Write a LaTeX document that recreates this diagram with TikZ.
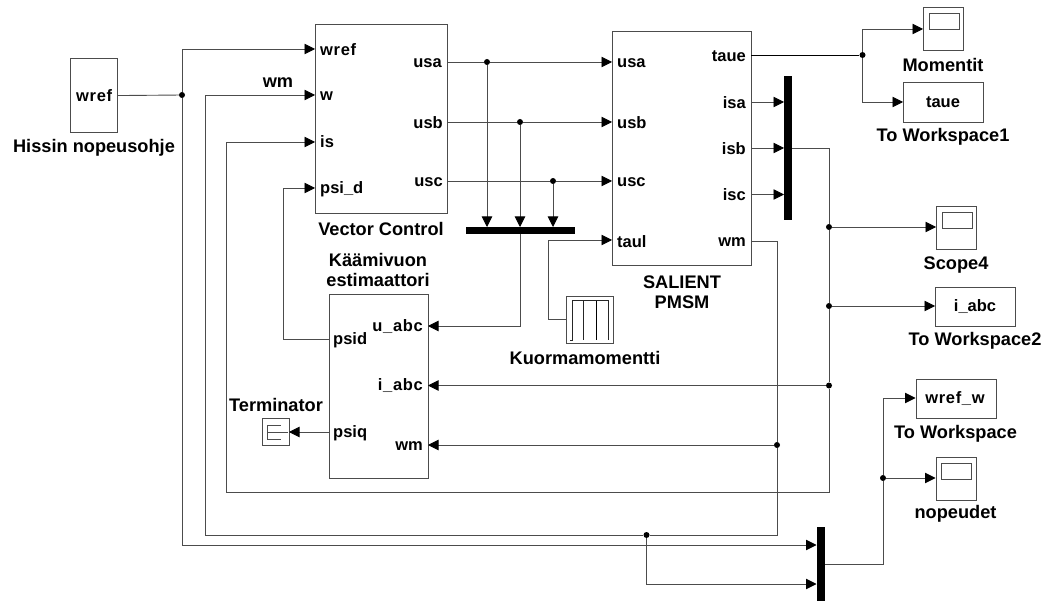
\documentclass[tikz,border=0pt]{standalone}
\usepackage{fontspec}
\setmainfont{Liberation Sans}
\newfontfamily\widefont[LetterSpace=4,BoldFont={Liberation Sans Bold}]{Liberation Sans}
\usetikzlibrary{arrows.meta}
\definecolor{ln}{gray}{0.3}
\tikzset{
  x=1pt,y=-1pt,
  blk/.style={draw=ln,line width=1.1pt,fill=white,inner sep=0pt,anchor=north west},
  wire/.style={draw=ln,line width=0.9pt},
  arr/.style={wire,-{Triangle[length=10.5pt,width=10.5pt,fill=black,color=black]}},
  dot/.style={circle,fill=black,inner sep=0pt,minimum size=6pt},
  bar/.style={fill=black,inner sep=0pt,anchor=north west},
  lab/.style={font=\bfseries\fontsize{18.2}{20.5}\selectfont,inner sep=0pt,text=black,align=center},
  port/.style={font=\bfseries\fontsize{16.5}{18}\selectfont,inner sep=0pt,text=black},
  wideport/.style={font=\widefont\bfseries\fontsize{16.5}{18}\selectfont,inner sep=0pt,text=black},
  screen/.style={draw=ln,line width=1pt,inner sep=0pt,anchor=north west},
}
\begin{document}
\begin{tikzpicture}
\useasboundingbox (0,0) rectangle (1049,601);
% blocks
\node[blk,minimum width=47pt,minimum height=74pt] (wrefb) at (70,58) {};
\node[blk,minimum width=132pt,minimum height=189pt] (vc) at (315,24) {};
\node[blk,minimum width=139pt,minimum height=234pt] (pmsm) at (612,31) {};
\node[blk,minimum width=99pt,minimum height=184pt] (est) at (329,294) {};
\node[blk,minimum width=27pt,minimum height=27pt] (term) at (262,418) {};
\node[blk,minimum width=46.5pt,minimum height=47pt] (kuorma) at (566,296) {};
\node[blk,minimum width=40pt,minimum height=43pt] (mom) at (923,7) {};
\node[screen,minimum width=30pt,minimum height=16pt] (momscr) at (929,13) {};
\node[blk,minimum width=80pt,minimum height=40pt] (tw1) at (903,82) {};
\node[blk,minimum width=40pt,minimum height=43pt] (sc4) at (936,206) {};
\node[screen,minimum width=30pt,minimum height=16pt] (sc4scr) at (942,212) {};
\node[blk,minimum width=80pt,minimum height=39pt] (tw2) at (935,287) {};
\node[blk,minimum width=80pt,minimum height=39pt] (tw) at (915.5,379) {};
\node[blk,minimum width=40pt,minimum height=43pt] (nop) at (935.5,456.5) {};
\node[screen,minimum width=30pt,minimum height=16pt] (nopscr) at (941,463) {};
\node[bar,minimum width=8pt,minimum height=144pt] (busi) at (784,76) {};
\node[bar,minimum width=109pt,minimum height=7pt] (busu) at (466,227) {};
\node[bar,minimum width=8pt,minimum height=75pt] (busw) at (816.5,526.5) {};
% block icons
\draw[black!85,line width=1pt] (570,340.5) -- (572,340.5) -- (572,300.7) -- (608.5,300.7) -- (608.5,340.5);
\draw[black!85,line width=1pt] (583.5,300.7) -- (583.5,340.5);
\draw[black,line width=1.8pt] (596.5,300.7) -- (596.5,340.5);
\draw[ln,line width=0.9pt] (280.5,425.5) -- (267,425.5) -- (267,439) -- (280.5,439);
\draw[ln,line width=0.9pt] (267,432) -- (288,432);
% junctions
\node[dot] (j1) at (182,95) {};
\node[dot] (j2) at (487,62) {};
\node[dot] (j3) at (520,122) {};
\node[dot] (j4) at (553,181) {};
\node[dot] (j5) at (862.5,55) {};
\node[dot] (j6) at (829,227) {};
\node[dot] (j7) at (829,306) {};
\node[dot] (j8) at (829,385.5) {};
\node[dot] (j9) at (777,445) {};
\node[dot] (j10) at (646.5,535) {};
\node[dot] (j11) at (883,478) {};
% connector end points on block sides
\foreach \n/\x/\y in {vw/315/49, vm/315/95, vi/315/142, vp/315/188,
  va/447/62, vb/447/122, vc/447/181, pa/612/62, pb/612/122, pc/612/181, pl/612/240,
  pt/751/55, pia/751/102, pib/751/148, pic/751/194.5, pw/751/241,
  bia/784/102, bib/784/148, bic/784/194.5, bo/792/148,
  ba/487/227, bb/520/227, bc/553/227, bu/520/234,
  eu/428/326, ei/428/385.5, ew/428/445, ed/329/339.5, eq/329/432,
  tin/289/432, kout/566/319, momin/923/29, tw1in/903/102, sc4in/936/227,
  tw2in/935/306, twin/915.5/398, nopin/935.5/478, w1/816.5/545, w2/816.5/584, wo/824.5/564}
  {\coordinate (\n) at (\x,\y);}
% wires
\draw[wire] (wrefb.east) -- (j1);
\draw[arr] (j1) -- (182,49) -- (vw);
\draw[arr] (j1) -- (182,545) -- (w1);
\draw[arr] (j10) -- (205,535) -- (205,95) -- (vm);
\draw[wire] (pw) -- (777,241) -- (j9);
\draw[wire] (j9) -- (777,535) -- (j10);
\draw[arr] (j10) -- (646.5,584) -- (w2);
\draw[arr] (j8) -- (829,492.5) -- (226,492.5) -- (226,142) -- (vi);
\draw[arr] (ed) -- (283,339.5) -- (283,188) -- (vp);
\draw[wire] (va) -- (j2); \draw[arr] (j2) -- (pa); \draw[arr] (j2) -- (ba);
\draw[wire] (vb) -- (j3); \draw[arr] (j3) -- (pb); \draw[arr] (j3) -- (bb);
\draw[wire] (vc) -- (j4); \draw[arr] (j4) -- (pc); \draw[arr] (j4) -- (bc);
\draw[arr] (bu) -- (520,326) -- (eu);
\draw[arr] (kout) -- (548,319) -- (548,240) -- (pl);
\draw[wire,black] (pt) -- (j5);
\draw[arr] (j5) -- (862.5,29) -- (momin);
\draw[arr] (j5) -- (862.5,102) -- (tw1in);
\draw[arr] (pia) -- (bia);
\draw[arr] (pib) -- (bib);
\draw[arr] (pic) -- (bic);
\draw[wire] (bo) -- (829,148) -- (j6);
\draw[wire] (j6) -- (j7); \draw[wire] (j7) -- (j8);
\draw[arr] (j6) -- (sc4in);
\draw[arr] (j7) -- (tw2in);
\draw[arr] (j8) -- (ei);
\draw[arr] (j9) -- (ew);
\draw[arr] (eq) -- (tin);
\draw[wire] (wo) -- (883,564) -- (j11);
\draw[arr] (j11) -- (nopin);
\draw[arr] (j11) -- (883,398) -- (twin);
% texts in blocks
\node[wideport,anchor=west] (t1) at (76,96) {wref};
\node[wideport,anchor=west] (t2) at (320,50) {wref};
\node[port,anchor=west] (t3) at (320,96) {w};
\node[port,anchor=west] (t4) at (320,142) {is};
\node[port,anchor=west] (t5) at (320,189) {psi\_d};
\node[port,anchor=east] (t6) at (442,63) {usa};
\node[port,anchor=east] (t7) at (443,123) {usb};
\node[port,anchor=east] (t8) at (443,182) {usc};
\node[port,anchor=west] (t9) at (617,63) {usa};
\node[port,anchor=west] (t10) at (617,123) {usb};
\node[port,anchor=west] (t11) at (617,182) {usc};
\node[port,anchor=west] (t12) at (617,242) {taul};
\node[port,anchor=east] (t13) at (746,56) {taue};
\node[port,anchor=east] (t14) at (746,103) {isa};
\node[port,anchor=east] (t15) at (746,149) {isb};
\node[port,anchor=east] (t16) at (746,195) {isc};
\node[port,anchor=east] (t17) at (746,242) {wm};
\node[wideport,anchor=east] (t18) at (423,327) {u\_abc};
\node[wideport,anchor=east] (t19) at (423,386) {i\_abc};
\node[port,anchor=east] (t20) at (423,446) {wm};
\node[port,anchor=west] (t21) at (333,340) {psid};
\node[port,anchor=west] (t22) at (333,433) {psiq};
\node[port] (t23) at (943,102) {taue};
\node[port] (t24) at (975,307) {i\_abc};
\node[wideport] (t25) at (955,399) {wref\_w};
% captions
\node[lab] (c1) at (94,148) {Hissin nopeusohje};
\node[lab] (c2) at (278,83) {wm};
\node[lab] (c3) at (381,229) {Vector Control};
\node[lab] (c4) at (378,270) {Käämivuon\\estimaattori};
\node[lab] (c5) at (682,292) {SALIENT\\PMSM};
\node[lab] (c6) at (943,65) {Momentit};
\node[lab] (c7) at (943,137) {To Workspace1};
\node[lab] (c8) at (956,265) {Scope4};
\node[lab] (c9) at (975,341) {To Workspace2};
\node[lab] (c10) at (955.5,434) {To Workspace};
\node[lab] (c11) at (955.5,514) {nopeudet};
\node[lab] (c12) at (276,405) {Terminator};
\node[lab] (c13) at (585,358) {Kuormamomentti};
\end{tikzpicture}
\end{document}
